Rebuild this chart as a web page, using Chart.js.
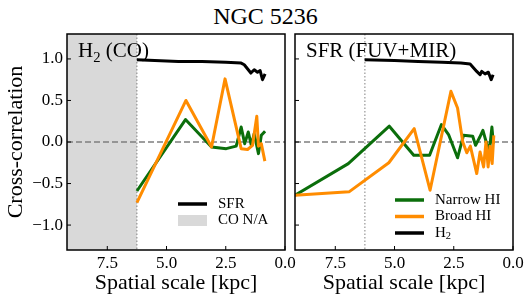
<!DOCTYPE html>
<html>
<head>
<meta charset="utf-8">
<script src="https://cdn.jsdelivr.net/npm/chart.js@4.4.1/dist/chart.umd.min.js"></script>
<style>
  html, body { margin: 0; padding: 0; background: #fff; }
  #figure { position: relative; width: 531px; height: 302px; overflow: hidden; }
  #titre {
    position: absolute; left: 0; top: 4px; width: 531px; text-align: center;
    font-family: 'Liberation Serif', 'Times New Roman', serif; font-size: 24px; line-height: 24px;
  }
  canvas { position: absolute; top: 0; }
</style>
</head>
<body>
<div id="figure">
  <div id="titre">NGC 5236</div>
  <canvas id="panneau-co" width="300" height="302" style="left:0"></canvas>
  <canvas id="panneau-sfr" width="242" height="302" style="left:289px"></canvas>
</div>
<script>
// ── Donnees (echelle spatiale en kpc, correlation croisee) ──

// Panneau gauche : reference H2 (CO)
const coSfrX    = [6.25, 5.5, 4.5, 3.5, 2.5, 1.85, 1.72, 1.55, 1.44, 1.30, 1.16, 1.05, 0.95, 0.84];
const coSfrY    = [0.99, 0.98, 0.97, 0.97, 0.96, 0.95, 0.93, 0.87, 0.83, 0.87, 0.84, 0.86, 0.75, 0.82];
const coNarrowX = [6.25, 4.2, 3.1, 2.48, 2.06, 1.85, 1.70, 1.55, 1.42, 1.30, 1.12, 1.0, 0.84];
const coNarrowY = [-0.59, 0.27, -0.06, -0.08, -0.05, 0.18, -0.02, 0.12, -0.04, 0.10, -0.14, 0.08, 0.13];
const coBroadX  = [6.25, 4.18, 3.1, 2.53, 1.85, 1.58, 1.37, 1.19, 1.12, 1.0, 0.85];
const coBroadY  = [-0.73, 0.50, -0.06, 0.76, -0.08, -0.09, -0.04, 0.31, -0.05, -0.02, -0.23];

// Panneau droit : reference SFR (FUV+MIR)
const sfrH2X     = [6.26, 5.0, 4.0, 3.0, 2.2, 1.81, 1.53, 1.39, 1.32, 1.18, 1.04, 0.92, 0.84];
const sfrH2Y     = [0.99, 0.98, 0.97, 0.96, 0.95, 0.94, 0.85, 0.81, 0.85, 0.82, 0.84, 0.75, 0.81];
const sfrNarrowX = [9.2, 6.95, 5.22, 4.19, 3.52, 3.02, 2.72, 2.34, 2.09, 1.70, 1.58, 1.40, 1.27, 1.15, 1.0, 0.89, 0.83];
const sfrNarrowY = [-0.64, -0.26, 0.19, -0.16, -0.16, 0.21, 0.09, -0.19, 0.08, 0.07, -0.04, 0.06, 0.14, 0.02, -0.12, 0.18, -0.02];
const sfrBroadX  = [9.2, 6.92, 5.24, 4.17, 3.5, 2.62, 2.34, 2.12, 1.95, 1.80, 1.53, 1.39, 1.24, 1.14, 1.05, 0.97, 0.88, 0.81];
const sfrBroadY  = [-0.64, -0.60, -0.25, 0.16, -0.58, 0.61, 0.41, 0.0, -0.13, -0.05, -0.38, -0.12, -0.30, 0.0, -0.30, -0.05, -0.26, 0.08];

// Limite de resolution CO (ligne pointillee) et graduations
const limiteCoKpc = 6.25;
const ticksX = [7.5, 5.0, 2.5, 0.0];
const ticksY = [-1.0, -0.5, 0.0, 0.5, 1.0];
const bornesX = [0, 9.2];
const bornesY = [-1.3, 1.3];

const POLICE = "'Liberation Serif', 'Times New Roman', serif";
const VERT   = '#0b6e0b';
const ORANGE = '#ff8c00';
const GRIS   = '#d9d9d9';

/**
 * Ecrit un texte avec indices : "H_2" -> H puis 2 en indice.
 */
function ecrireTexte(ctx, texte, x, y, taille) {
    let curseur = x;
    for (let i = 0; i < texte.length; i++) {
        let car = texte[i], t = taille, dy = 0;
        if (car === '_' && i + 1 < texte.length) {
            car = texte[++i]; t = taille * 0.7; dy = taille * 0.22;
        }
        ctx.font = t + 'px ' + POLICE;
        ctx.fillText(car, curseur, y + dy);
        curseur += ctx.measureText(car).width;
    }
}

// Cadre, zone grise, lignes de reference, graduations internes, etiquettes
const pluginCadre = {
    id: 'cadre',
    beforeDatasetsDraw(chart, args, opts) {
        const { ctx, chartArea: a, scales: { x, y } } = chart;
        ctx.save();
        ctx.beginPath(); ctx.rect(a.left, a.top, a.width, a.height); ctx.clip();
        if (opts.zoneGrise) {
            const x0 = x.getPixelForValue(bornesX[1]);
            const x1 = x.getPixelForValue(limiteCoKpc);
            ctx.fillStyle = GRIS;
            ctx.fillRect(Math.min(x0, x1), a.top, Math.abs(x1 - x0), a.height);
        }
        // ligne y = 0
        const y0 = y.getPixelForValue(0);
        ctx.strokeStyle = '#7f7f7f'; ctx.lineWidth = 1.5; ctx.setLineDash([6, 3]);
        ctx.beginPath(); ctx.moveTo(a.left, y0); ctx.lineTo(a.right, y0); ctx.stroke();
        // limite CO
        const xl = x.getPixelForValue(limiteCoKpc);
        ctx.strokeStyle = '#808080'; ctx.lineWidth = 1; ctx.setLineDash([1.5, 2]);
        ctx.beginPath(); ctx.moveTo(xl, a.top); ctx.lineTo(xl, a.bottom); ctx.stroke();
        ctx.restore();
    },
    afterDraw(chart, args, opts) {
        const { ctx, chartArea: a, scales: { x, y } } = chart;
        ctx.save();
        ctx.strokeStyle = '#000'; ctx.lineWidth = 1;
        ctx.beginPath();
        ticksX.forEach(v => { const p = x.getPixelForValue(v); ctx.moveTo(p, a.bottom); ctx.lineTo(p, a.bottom - 4); });
        ticksY.forEach(v => { const p = y.getPixelForValue(v); ctx.moveTo(a.left, p); ctx.lineTo(a.left + 4, p); });
        ctx.stroke();
        ctx.lineWidth = 1.5;
        ctx.strokeRect(a.left, a.top, a.width, a.height);

        // etiquette du panneau
        ctx.fillStyle = '#000';
        ctx.textBaseline = 'alphabetic';
        ecrireTexte(ctx, opts.etiquette, a.left + 11, a.top + 23, 21);

        // legende
        const leg = opts.legende;
        ctx.textBaseline = 'middle';
        leg.entrees.forEach((e, i) => {
            const ly = a.bottom - leg.bas + i * 16.5;
            const lx = a.right - leg.droite;
            if (e.forme === 'boite') {
                ctx.fillStyle = e.couleur;
                ctx.fillRect(lx, ly - 5.5, 29, 11);
            } else {
                ctx.strokeStyle = e.couleur; ctx.lineWidth = 3.5;
                ctx.beginPath(); ctx.moveTo(lx, ly); ctx.lineTo(lx + 29, ly); ctx.stroke();
            }
            ctx.fillStyle = '#000';
            ecrireTexte(ctx, e.texte, lx + 40, ly, 15);
        });
        ctx.restore();
    }
};

function formaterTick(v) {
    return (v < 0 ? '\u2212' : '') + Math.abs(v).toFixed(1);
}

function serie(label, xs, ys, couleur) {
    return {
        label: label,
        data: xs.map((v, i) => ({ x: v, y: ys[i] })),
        borderColor: couleur,
        borderWidth: 3,
        pointRadius: 0,
        tension: 0,
        fill: false,
        borderJoinStyle: 'round',
    };
}

function creerPanneau(idCanvas, series, reglages) {
    return new Chart(document.getElementById(idCanvas), {
        type: 'line',
        data: { datasets: series },
        options: {
            responsive: false,
            animation: false,
            events: [],
            layout: { padding: { left: 0, top: 34, right: reglages.margeDroite, bottom: 0 } },
            scales: {
                x: {
                    type: 'linear', reverse: true, min: bornesX[0], max: bornesX[1],
                    afterBuildTicks: s => { s.ticks = ticksX.map(v => ({ value: v })); },
                    afterFit: s => { s.height = 52; },
                    grid: { display: false, drawTicks: false },
                    border: { display: false },
                    ticks: {
                        font: { family: POLICE, size: 17 }, color: '#000', padding: 3,
                        maxRotation: 0, callback: v => v.toFixed(1)
                    },
                    title: {
                        display: true, text: 'Spatial scale [kpc]', color: '#000',
                        font: { family: POLICE, size: 22 }, padding: { top: 0, bottom: 6 }
                    }
                },
                y: {
                    type: 'linear', min: bornesY[0], max: bornesY[1],
                    afterBuildTicks: s => { s.ticks = ticksY.map(v => ({ value: v })); },
                    afterFit: s => { s.width = reglages.largeurAxeY; },
                    grid: { display: false, drawTicks: false },
                    border: { display: false },
                    ticks: {
                        display: reglages.etiquettesY,
                        font: { family: POLICE, size: 17 }, color: '#000', padding: 4,
                        callback: formaterTick
                    },
                    title: {
                        display: reglages.etiquettesY, text: 'Cross-correlation', color: '#000',
                        font: { family: POLICE, size: 22 }, padding: { top: 3, bottom: 0 }
                    }
                }
            },
            plugins: {
                legend: { display: false },
                tooltip: { enabled: false },
                cadre: reglages.cadre
            }
        },
        plugins: [pluginCadre]
    });
}

creerPanneau('panneau-co', [
    serie('Broad HI', coBroadX, coBroadY, ORANGE),
    serie('Narrow HI', coNarrowX, coNarrowY, VERT),
    serie('SFR', coSfrX, coSfrY, '#000'),
], {
    margeDroite: 15, largeurAxeY: 67, etiquettesY: true,
    cadre: {
        zoneGrise: true,
        etiquette: 'H_2 (CO)',
        legende: {
            droite: 107, bas: 46,
            entrees: [
                { texte: 'SFR', couleur: '#000', forme: 'ligne' },
                { texte: 'CO N/A', couleur: GRIS, forme: 'boite' },
            ]
        }
    }
});

creerPanneau('panneau-sfr', [
    serie('Broad HI', sfrBroadX, sfrBroadY, ORANGE),
    serie('Narrow HI', sfrNarrowX, sfrNarrowY, VERT),
    serie('H2', sfrH2X, sfrH2Y, '#000'),
], {
    margeDroite: 18, largeurAxeY: 6, etiquettesY: false,
    cadre: {
        zoneGrise: false,
        etiquette: 'SFR (FUV+MIR)',
        legende: {
            droite: 118, bas: 50,
            entrees: [
                { texte: 'Narrow HI', couleur: VERT, forme: 'ligne' },
                { texte: 'Broad HI', couleur: ORANGE, forme: 'ligne' },
                { texte: 'H_2', couleur: '#000', forme: 'ligne' },
            ]
        }
    }
});
</script>
</body>
</html>
